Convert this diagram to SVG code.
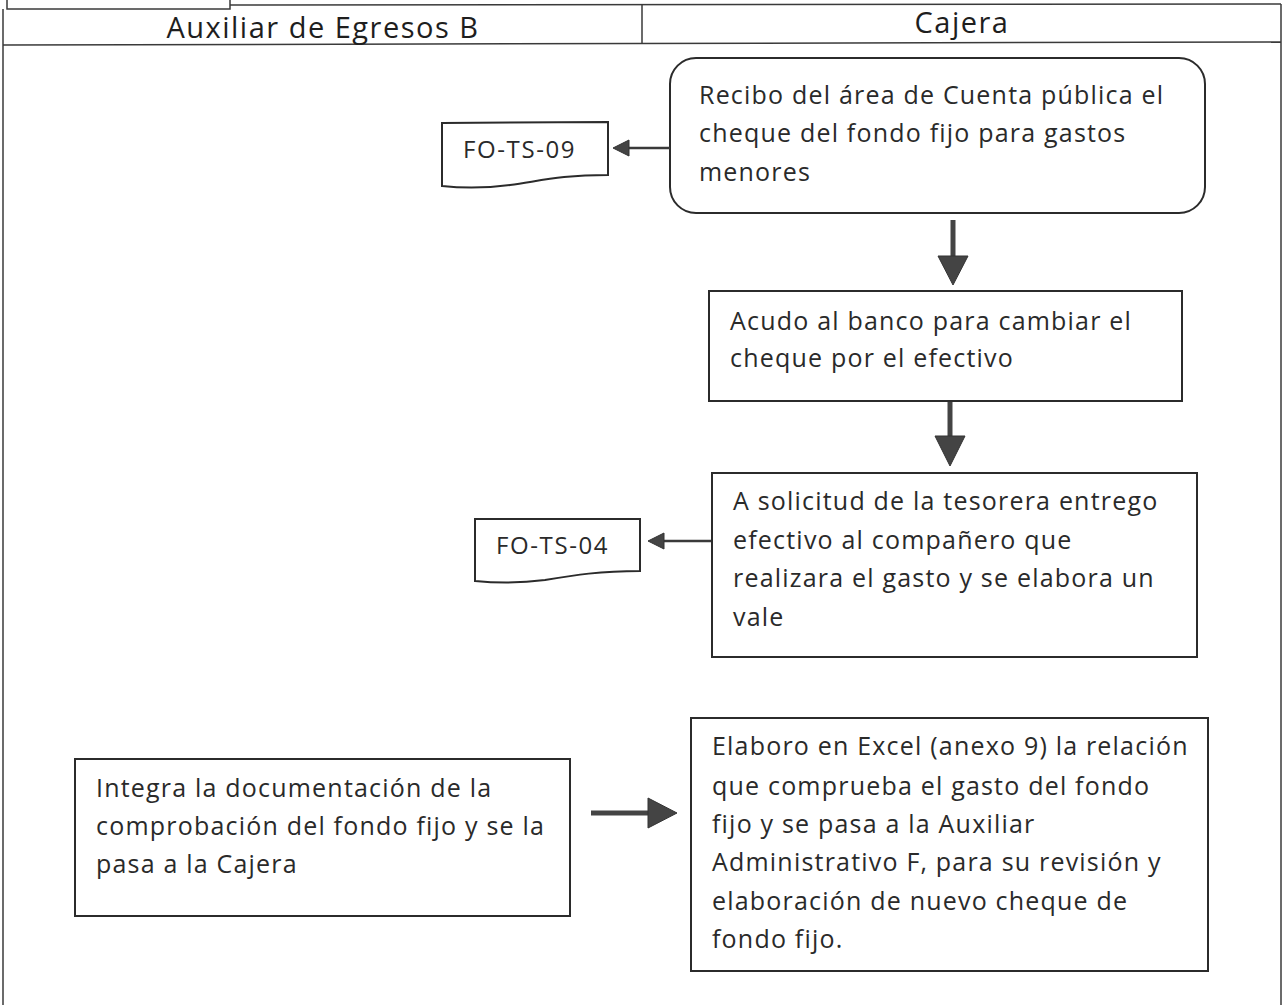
<svg xmlns="http://www.w3.org/2000/svg" width="1286" height="1005" viewBox="0 0 1286 1005">
<style>
.frame{fill:none;stroke:#3a3a3a;stroke-width:1.5}
.box{fill:#fff;stroke:#2b2b2b;stroke-width:2}
.t{font-family:"Open Sans","Liberation Sans",sans-serif;font-size:25px;letter-spacing:1.2px;fill:#2a2a2a}
.h{font-family:"Open Sans","Liberation Sans",sans-serif;font-size:29px;letter-spacing:1.5px;fill:#1e1e1e}
.doc{font-family:"Open Sans","Liberation Sans",sans-serif;font-size:24px;letter-spacing:1.6px;fill:#2a2a2a}
.ln{stroke:#3a3a3a;stroke-width:2.5;fill:none}
.thick{stroke:#444;stroke-width:5;fill:none}
.head{fill:#444;stroke:#333;stroke-width:1}
</style>
<rect width="1286" height="1005" fill="#fff"/>
<g id="frame">
<rect x="7" y="-2" width="223" height="11" class="frame"/>
<line x1="230" y1="5" x2="1281" y2="4" class="frame"/>
<line x1="3" y1="9" x2="3" y2="1005" class="frame"/>
<line x1="1281" y1="4" x2="1281" y2="1005" class="frame"/>
<line x1="3" y1="45" x2="1281" y2="42" class="frame"/>
<line x1="642" y1="4" x2="642" y2="44" class="frame"/>
<text x="323" y="38" text-anchor="middle" class="h">Auxiliar de Egresos B</text>
<text x="962" y="33" text-anchor="middle" class="h">Cajera</text>
</g>
<g id="n1">
<rect x="670" y="58" width="535" height="155" rx="26" class="box"/>
<text class="t"><tspan x="699" y="104">Recibo del área de Cuenta pública el</tspan><tspan x="699" y="142">cheque del fondo fijo para gastos</tspan><tspan x="699" y="181">menores</tspan></text>
</g>
<g id="d1">
<path d="M442,123 L608,122 L608,175 C560,175 540,181 510,185 C480,189 460,188 442,186 Z" class="box" stroke-width="1.8"/>
<text x="463" y="158" class="doc">FO-TS-09</text>
</g>
<g id="n2">
<rect x="709" y="291" width="473" height="110" class="box"/>
<text class="t"><tspan x="730" y="330">Acudo al banco para cambiar el</tspan><tspan x="730" y="367">cheque por el efectivo</tspan></text>
</g>
<g id="n3">
<rect x="712" y="473" width="485" height="184" class="box"/>
<text class="t"><tspan x="733" y="510">A solicitud de la tesorera entrego</tspan><tspan x="733" y="549">efectivo al compañero que</tspan><tspan x="733" y="587">realizara el gasto y se elabora un</tspan><tspan x="733" y="626">vale</tspan></text>
</g>
<g id="d2">
<path d="M475,519 L640,519 L640,571 C600,571 575,575 545,580 C515,584 495,583 475,581 Z" class="box" stroke-width="1.8"/>
<text x="496" y="554" class="doc">FO-TS-04</text>
</g>
<g id="n4">
<rect x="75" y="759" width="495" height="157" class="box"/>
<text class="t"><tspan x="96" y="797">Integra la documentación de la</tspan><tspan x="96" y="835">comprobación del fondo fijo y se la</tspan><tspan x="96" y="873">pasa a la Cajera</tspan></text>
</g>
<g id="n5">
<rect x="691" y="718" width="517" height="253" class="box"/>
<text class="t"><tspan x="712" y="755">Elaboro en Excel (anexo 9) la relación</tspan><tspan x="712" y="795">que comprueba el gasto del fondo</tspan><tspan x="712" y="833">fijo y se pasa a la Auxiliar</tspan><tspan x="712" y="871">Administrativo F, para su revisión y</tspan><tspan x="712" y="910">elaboración de nuevo cheque de</tspan><tspan x="712" y="948">fondo fijo.</tspan></text>
</g>
<g id="connectors">
<line x1="670" y1="148" x2="628" y2="148" class="ln"/>
<polygon points="613,148 629,140 629,156" class="head"/>
<line x1="711" y1="541" x2="662" y2="541" class="ln"/>
<polygon points="648,541 664,533 664,549" class="head"/>
<line x1="953" y1="220" x2="953" y2="258" class="thick"/>
<polygon points="938,256 968,256 953,285" class="head"/>
<line x1="950" y1="402" x2="950" y2="438" class="thick"/>
<polygon points="935,436 965,436 950,466" class="head"/>
<line x1="591" y1="813" x2="650" y2="813" class="thick"/>
<polygon points="648,798 648,828 677,813" class="head"/>
</g>
</svg>
